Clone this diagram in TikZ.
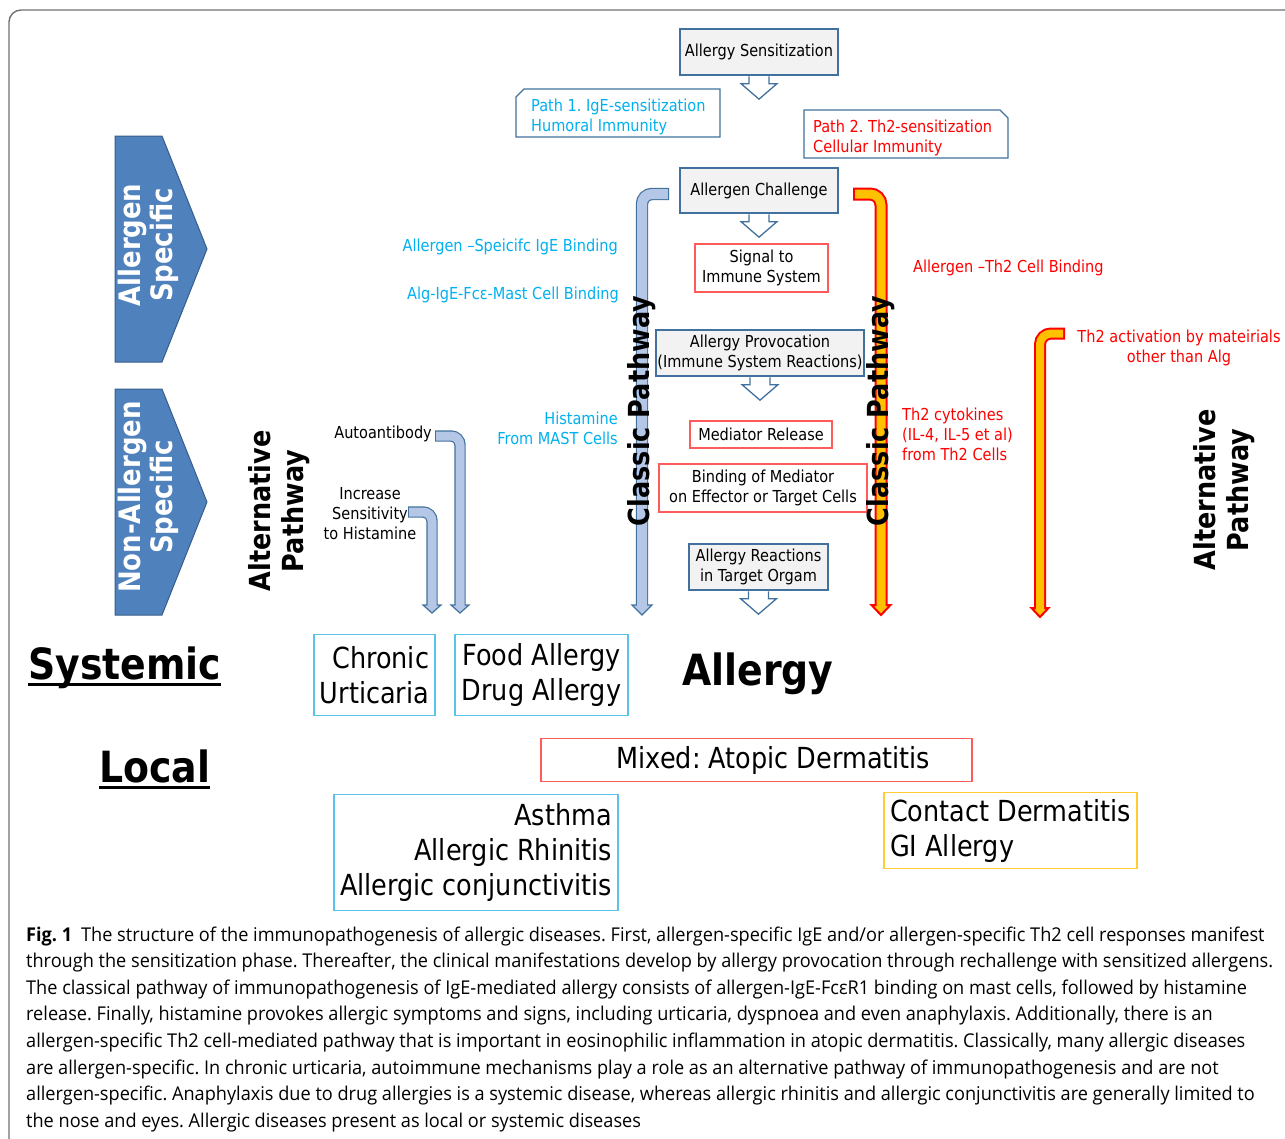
\documentclass[tikz,border=0pt]{standalone}
\usepackage{fontspec}
\setmainfont{DejaVu Sans}[FakeStretch=0.88]
\newfontfamily\capfont{Open Sans}[FakeStretch=0.955]
\usetikzlibrary{calc}
\frenchspacing
\newcommand\myfs[2]{\fontsize{#1}{#2}\selectfont}
\definecolor{bdark}{HTML}{41719C}
\definecolor{gfill}{HTML}{F2F2F2}
\definecolor{cyantxt}{HTML}{00B0F0}
\definecolor{rboxc}{HTML}{FF5B5B}
\definecolor{cboxc}{HTML}{5BC3EB}
\definecolor{goldbox}{HTML}{FFCC33}
\definecolor{pentfill}{HTML}{4F81BD}
\definecolor{pentdraw}{HTML}{385D8A}
\definecolor{lblue}{HTML}{B4C7E7}
\definecolor{orangef}{HTML}{FFC000}
\definecolor{framegray}{HTML}{707070}
\begin{document}
\begin{tikzpicture}[x=1pt,y=-1pt,
  every node/.style={inner sep=0pt},
  gbox/.style={draw=bdark, fill=gfill, line width=1.3pt, align=center, font=\myfs{16.5}{20}},
  rbox/.style={draw=rboxc, fill=white, line width=1.1pt, align=center, font=\myfs{16.5}{20}},
  cbox/.style={draw=cboxc, line width=1.2pt, font=\myfs{29}{35}},
  ctext/.style={text=cyantxt, font=\myfs{16.5}{19.5}},
  rtext/.style={text=red, font=\myfs{16.5}{20}},
  ktext/.style={text=black, font=\myfs{16.5}{20}},
  hbold/.style={font=\bfseries\myfs{29}{33}, align=center},
  wbold/.style={font=\bfseries\myfs{29.5}{32}, align=center, text=white},
  bigbold/.style={font=\bfseries\myfs{43}{50}},
  captxt/.style={font=\capfont\myfs{19}{26}, anchor=base west},
  bout/.style={draw=bdark, line width=12.4pt, rounded corners=10pt},
  bin/.style={draw=lblue, line width=10pt, rounded corners=10pt, shorten <=1.2pt},
  bhead/.style={draw=bdark, fill=lblue, line width=1.2pt},
  rout/.style={draw=red, line width=13pt, rounded corners=11pt},
  rin/.style={draw=orangef, line width=9pt, rounded corners=11pt, shorten <=2pt},
  rhead/.style={draw=red, fill=orangef, line width=2pt},
  pics/downblock/.style={code={\filldraw[draw=bdark, fill=white, line width=1.3pt] (-10,0.7) -- (-10,8) -- (-18,8) -- (0,23.5) -- (18,8) -- (10,8) -- (10,0.7);}}
]
\useasboundingbox (0,0) rectangle (1285,1138);
% outer frame
\draw[framegray, line width=1.4pt, rounded corners=12pt] (9,1150) -- (9,10) -- (1300,10);

% left pentagons
\filldraw[fill=pentfill, draw=pentdraw, line width=1pt] (115,136) -- (162,136) -- (207,249) -- (162,362) -- (115,362) -- cycle;
\filldraw[fill=pentfill, draw=pentdraw, line width=1pt] (115,389) -- (162,389) -- (207,502) -- (162,615) -- (115,615) -- cycle;
\node[wbold, rotate=90] (allspec) at (148,245) {Allergen\\Specific};
\node[wbold, rotate=90] (nonspec) at (148,497) {Non-Allergen\\Specific};

% main column boxes
\node[gbox, minimum width=158, minimum height=46] (sens) at (759,52) {Allergy Sensitization};
\pic at (sens.south) {downblock};
\node[gbox, minimum width=158, minimum height=45] (chal) at (759,190.5) {Allergen Challenge};
\pic at (chal.south) {downblock};
\node[rbox, minimum width=133, minimum height=48] (signal) at (761.5,268) {Signal to\\Immune System};
\node[gbox, minimum width=208, minimum height=46] (prov) at (760,353) {Allergy Provocation\\(Immune System Reactions)};
\pic at (prov.south) {downblock};
\node[rbox, minimum width=142, minimum height=27] (medrel) at (761,434.5) {Mediator Release};
\node[rbox, minimum width=208, minimum height=48] (bind) at (763,488) {Binding of Mediator\\on Effector or Target Cells};
\node[gbox, minimum width=139, minimum height=46] (react) at (758.5,567) {Allergy Reactions\\in Target Orgam};
\pic at (react.south) {downblock};

% path boxes
\draw[bdark, line width=1.3pt, fill=white] (524,89) -- (720,89) -- (720,137) -- (516,137) -- (516,97) -- cycle;
\node[ctext, anchor=west, align=left] (path1) at (531,117) {Path 1. IgE-sensitization\\Humoral Immunity};
\draw[bdark, line width=1.3pt, fill=white] (804,110) -- (1000,110) -- (1008,118) -- (1008,158) -- (804,158) -- cycle;
\node[rtext, anchor=west, align=left] (path2) at (813,138) {Path 2. Th2-sensitization\\Cellular Immunity};

% blue classic arrow
\coordinate (bcS) at (669,194);
\coordinate (bcC) at (642,194);
\coordinate (bcB) at (642,605);
\coordinate (bcT) at (642,615);
\draw[bout] (bcS) -- (bcC) -- (bcB);
\filldraw[bhead] ($(bcB)+(-10,0)$) -- (bcT) -- ($(bcB)+(10,0)$) -- cycle;
\draw[bin] (bcS) -- (bcC) -- ($(bcB)+(0,2)$);
\node[hbold, rotate=90] (classicL) at (642,411) {Classic Pathway};

% red classic arrow
\coordinate (rcS) at (853,194);
\coordinate (rcC) at (881,194);
\coordinate (rcB) at (881,605);
\coordinate (rcT) at (881,615);
\draw[rout] (rcS) -- (rcC) -- (rcB);
\filldraw[rhead] ($(rcB)+(-9.5,0)$) -- (rcT) -- ($(rcB)+(9.5,0)$) -- cycle;
\draw[rin] (rcS) -- (rcC) -- ($(rcB)+(0,2.5)$);
\node[hbold, rotate=90] (classicR) at (881,411) {Classic Pathway};

% red alternative arrow
\coordinate (raS) at (1065,333.5);
\coordinate (raC) at (1040,333.5);
\coordinate (raB) at (1040,608);
\coordinate (raT) at (1040,617);
\draw[rout, line width=12pt] (raS) -- (raC) -- (raB);
\filldraw[rhead] ($(raB)+(-8.5,0)$) -- (raT) -- ($(raB)+(8.5,0)$) -- cycle;
\draw[rin, line width=8pt] (raS) -- (raC) -- ($(raB)+(0,2.5)$);

% small blue arrows (alternative pathway)
\coordinate (aaS) at (435,436);
\coordinate (aaC) at (460,436);
\coordinate (aaB) at (460,605);
\coordinate (aaT) at (460,613);
\draw[bout, line width=11.4pt, rounded corners=9pt] (aaS) -- (aaC) -- (aaB);
\filldraw[bhead] ($(aaB)+(-9,0)$) -- (aaT) -- ($(aaB)+(9,0)$) -- cycle;
\draw[bin, line width=9pt, rounded corners=9pt] (aaS) -- (aaC) -- ($(aaB)+(0,2)$);

\coordinate (isS) at (408,512);
\coordinate (isC) at (432,512);
\coordinate (isB) at (432,605);
\coordinate (isT) at (432,613);
\draw[bout, line width=11.4pt, rounded corners=9pt] (isS) -- (isC) -- (isB);
\filldraw[bhead] ($(isB)+(-9,0)$) -- (isT) -- ($(isB)+(9,0)$) -- cycle;
\draw[bin, line width=9pt, rounded corners=9pt] (isS) -- (isC) -- ($(isB)+(0,2)$);

% side labels
\node[ctext, anchor=east] (igeb) at (618,247) {Allergen –Speicifc IgE Binding};
\node[ctext, anchor=east] (fceb) at (619,295) {Alg-IgE-Fcε-Mast Cell Binding};
\node[ctext, anchor=east, align=right] (hist) at (618,428.5) {Histamine\\From MAST Cells};
\node[ktext, anchor=east] (auto) at (432,434) {Autoantibody};
\node[ktext, align=center] (incr) at (370,514) {Increase\\Sensitivity\\to Histamine};
\node[rtext, anchor=west] (th2b) at (913,268) {Allergen –Th2 Cell Binding};
\node[rtext, anchor=west, align=left] (cyto) at (902,434) {Th2 cytokines\\(IL-4, IL-5 et al)\\from Th2 Cells};
\node[rtext, align=center] (th2act) at (1179,348) {Th2 activation by mateirials\\other than Alg};

\node[hbold, rotate=90] (altL) at (279,511) {Alternative\\Pathway};
\node[hbold, rotate=90] (altR) at (1224,490) {Alternative\\Pathway};

% bottom
\node[bigbold, anchor=base west] (sys) at (28,679) {Systemic};
\draw[line width=2.8pt] ($(sys.base west)+(0,5.5)$) -- ($(sys.base east)+(0,5.5)$);
\node[bigbold, anchor=base west] (loc) at (99,782) {Local};
\draw[line width=2.8pt] ($(loc.base west)+(0,5.5)$) -- ($(loc.base east)+(0,5.5)$);
\node[bigbold, anchor=base west] (allergy) at (682,685) {Allergy};

\node[cbox, minimum width=121, minimum height=81, align=right] (chron) at (374.5,675) {Chronic\\Urticaria};
\node[cbox, minimum width=173, minimum height=81, align=center] (food) at (541.5,675) {Food Allergy\\Drug Allergy};
\node[cbox, draw=rboxc, minimum width=431, minimum height=43] (mixed) at (756.5,760) {\hspace*{34pt}Mixed: Atopic Dermatitis};
\node[cbox, minimum width=284, minimum height=116, align=right] (asthma) at (476,852.5) {Asthma\\Allergic Rhinitis\\Allergic conjunctivitis};
\node[cbox, draw=goldbox, minimum width=253, minimum height=76, align=left] (contact) at (1010.5,830.5) {Contact Dermatitis\\GI Allergy};

% caption
\node[captxt] (cap1) at (26,941) {\textbf{Fig. 1}\hspace{9pt}The structure of the immunopathogenesis of allergic diseases. First, allergen-specific IgE and/or allergen-specific Th2 cell responses manifest};
\node[captxt] (cap2) at (26,967.6) {through the sensitization phase. Thereafter, the clinical manifestations develop by allergy provocation through rechallenge with sensitized allergens.};
\node[captxt] (cap3) at (26,994.2) {The classical pathway of immunopathogenesis of IgE-mediated allergy consists of allergen-IgE-FcεR1 binding on mast cells, followed by histamine};
\node[captxt] (cap4) at (26,1020.8) {release. Finally, histamine provokes allergic symptoms and signs, including urticaria, dyspnoea and even anaphylaxis. Additionally, there is an};
\node[captxt] (cap5) at (26,1047.4) {allergen-specific Th2 cell-mediated pathway that is important in eosinophilic inflammation in atopic dermatitis. Classically, many allergic diseases};
\node[captxt] (cap6) at (26,1074) {are allergen-specific. In chronic urticaria, autoimmune mechanisms play a role as an alternative pathway of immunopathogenesis and are not};
\node[captxt] (cap7) at (26,1100.6) {allergen-specific. Anaphylaxis due to drug allergies is a systemic disease, whereas allergic rhinitis and allergic conjunctivitis are generally limited to};
\node[captxt] (cap8) at (26,1127.2) {the nose and eyes. Allergic diseases present as local or systemic diseases};
\end{tikzpicture}
\end{document}
